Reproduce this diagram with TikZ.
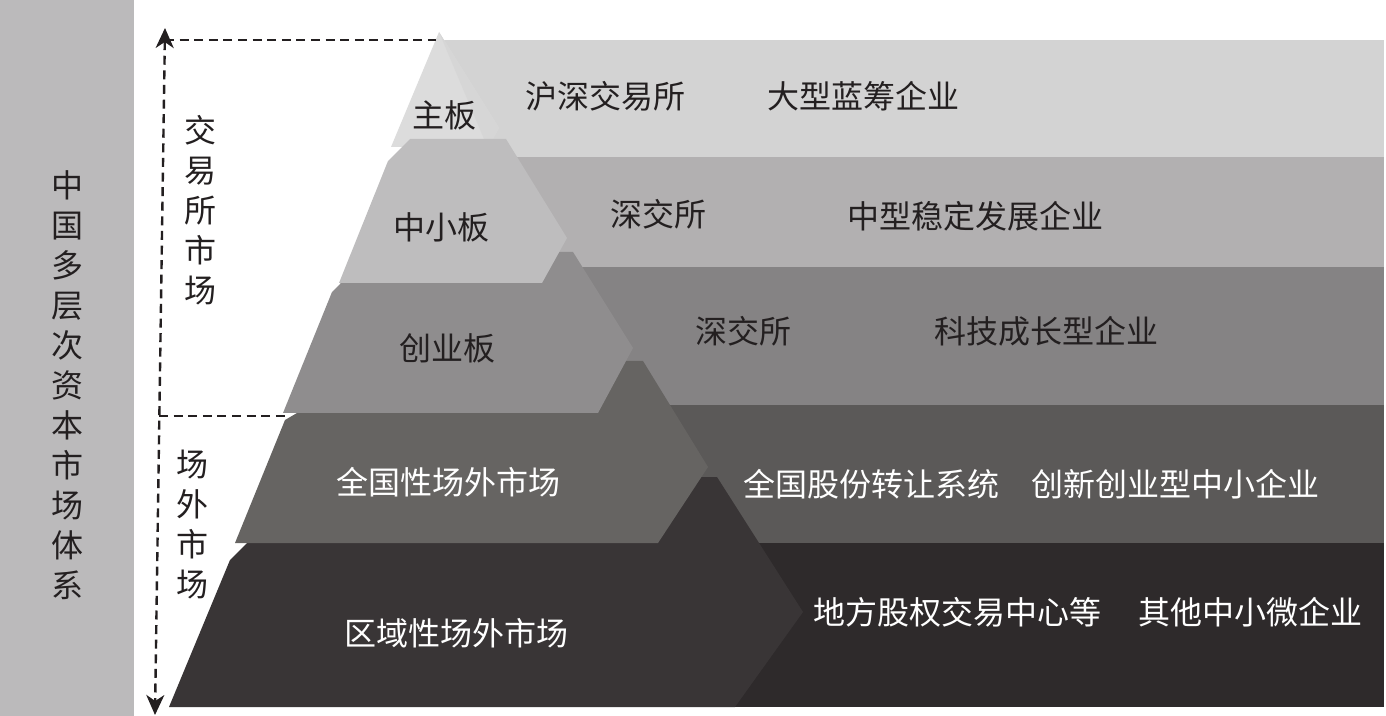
\documentclass[tikz,border=0pt]{standalone}
\usepackage{fontspec}
\newfontfamily\cjk{Noto Sans CJK SC}
\usetikzlibrary{arrows.meta}

\definecolor{barGray}{HTML}{BBBABB}
\definecolor{inkDark}{HTML}{231F20}
\definecolor{layerA}{HTML}{DCDCDC}
\definecolor{facetA}{HTML}{D6D6D6}
\definecolor{bandA}{HTML}{D3D3D3}
\definecolor{layerB}{HTML}{BEBDBE}
\definecolor{bandB}{HTML}{B2B0B1}
\definecolor{layerC}{HTML}{8F8D8E}
\definecolor{bandC}{HTML}{858384}
\definecolor{layerD}{HTML}{666462}
\definecolor{bandD}{HTML}{5B5958}
\definecolor{layerE}{HTML}{393536}
\definecolor{bandE}{HTML}{2E2A2B}

\begin{document}
\begin{tikzpicture}[
    x=0.5pt, y=-0.5pt,
    boardtext/.style={font=\cjk\fontsize{16}{16}\selectfont, text=inkDark, inner sep=0pt},
    lighttext/.style={boardtext, text=white},
    vtext/.style={font=\cjk\fontsize{16}{20}\selectfont, text=inkDark, align=center, inner sep=0pt},
    guide/.style={draw=inkDark, line width=1.2pt, dash pattern=on 4.5pt off 2.8pt},
    bothtips/.style={<->, >={Stealth[length=10pt, width=9pt, inset=3pt]}}
]
    \useasboundingbox (0,0) rectangle (1386,716);

    % Side bar
    \fill[barGray] (0,0) rectangle (134,716);
    \node[vtext] (system) at (67,385) {中\\国\\多\\层\\次\\资\\本\\市\\场\\体\\系};

    % Bands
    \fill[bandA] (444,40) rectangle (1384,157);
    \fill[bandB] (440,157) rectangle (1384,267);
    \fill[bandC] (440,267) rectangle (1384,405);
    \fill[bandD] (440,405) rectangle (1384,543);
    \fill[bandE] (440,543) rectangle (1384,707);

    % Pyramid layers
    \fill[layerE] (169,707) -- (230,560) -- (247,543) -- (300,477) -- (717,477) -- (803,612) -- (735,707) -- cycle;
    \fill[layerD] (235,543) -- (285,420) -- (297,413) -- (320,361) -- (643,361) -- (708,467) -- (658,543) -- cycle;
    \fill[layerC] (283,413) -- (332,292) -- (340,284) -- (365,252) -- (573,252) -- (633,348) -- (598,413) -- cycle;
    \fill[layerA] (391,147) -- (439,32) -- (499,128) -- (488,147) -- cycle;
    \fill[facetA] (439,32) -- (499,128) -- (493,139) -- (484,139) -- cycle;
    \fill[layerB] (339,283) -- (388,161) -- (410,139) -- (506,139) -- (567,238) -- (542,283) -- cycle;

    % Board names
    \node[boardtext] (zhuban) at (444,115) {主板};
    \node[boardtext] (zhongxiao) at (441,227) {中小板};
    \node[boardtext] (chuangye) at (447,348) {创业板};
    \node[lighttext] (quanguo) at (448,482) {全国性场外市场};
    \node[lighttext] (quyu) at (456,633) {区域性场外市场};

    % Venues and firms
    \node[boardtext] (hushen) at (605,96) {沪深交易所};
    \node[boardtext] (lanchou) at (863,96) {大型蓝筹企业};
    \node[boardtext] (shenjiaoB) at (658,214) {深交所};
    \node[boardtext] (wending) at (975,216) {中型稳定发展企业};
    \node[boardtext] (shenjiaoC) at (743,331) {深交所};
    \node[boardtext] (keji) at (1046,331) {科技成长型企业};
    \node[lighttext] (guzhuan) at (871,484) {全国股份转让系统};
    \node[lighttext] (chuangxin) at (1175,484) {创新创业型中小企业};
    \node[lighttext] (difang) at (957,612) {地方股权交易中心等};
    \node[lighttext] (weiqiye) at (1250,612) {其他中小微企业};

    % Market groups
    \node[vtext] (exchange) at (200,210) {交\\易\\所\\市\\场};
    \node[vtext] (otc) at (192,525) {场\\外\\市\\场};

    % Guides
    \coordinate (guidetop) at (165,28);
    \coordinate (guidebottom) at (155,715);
    \coordinate (exchright) at (436,40);
    \coordinate (otcleft) at (159,416);
    \coordinate (otcright) at (290,416);
    \draw[guide, bothtips] (guidetop) -- (guidebottom);
    \draw[guide] (exchright -| guidetop) -- (exchright);
    \draw[guide] (otcleft) -- (otcright);

\end{tikzpicture}
\end{document}
